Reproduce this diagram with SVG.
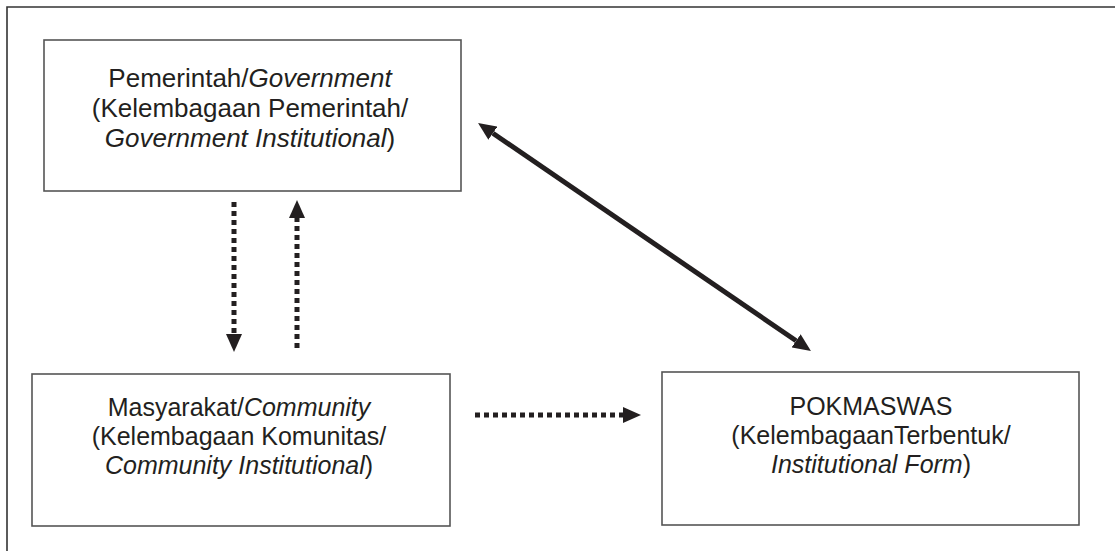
<svg xmlns="http://www.w3.org/2000/svg" width="1115" height="551" viewBox="0 0 1115 551">
  <style>
    .box { fill: #ffffff; stroke: #555555; stroke-width: 1.6; }
    .lbl { font-family: "Liberation Sans", Arial, sans-serif; font-size: 26px; fill: #231f20; text-anchor: middle; }
    .sm { font-size: 25px; }
    .it { font-style: italic; }
    .dot { fill: none; stroke: #231f20; stroke-width: 5; stroke-dasharray: 5 4; }
    .solid { fill: none; stroke: #231f20; stroke-width: 5; }
  </style>
  <defs>
    <marker id="head" viewBox="0 0 18 16" refX="0" refY="8" markerWidth="18" markerHeight="16" markerUnits="userSpaceOnUse" orient="auto-start-reverse">
      <path d="M0,0 L18,8 L0,16 Z" fill="#231f20"/>
    </marker>
  </defs>
  <rect width="1115" height="551" fill="#ffffff"/>
  <path d="M7,551 L7,7 L1115,7" fill="none" stroke="#333333" stroke-width="1.6"/>

  <g id="node-government">
    <rect class="box" x="44" y="40" width="417" height="151"/>
    <text class="lbl" x="250" y="87">Pemerintah/<tspan class="it">Government</tspan></text>
    <text class="lbl" x="250" y="117">(Kelembagaan Pemerintah/</text>
    <text class="lbl" x="250" y="147"><tspan class="it">Government Institutional</tspan>)</text>
  </g>

  <g id="node-community">
    <rect class="box" x="32" y="374" width="418" height="152"/>
    <text class="lbl sm" x="239" y="416">Masyarakat/<tspan class="it">Community</tspan></text>
    <text class="lbl sm" x="239" y="445">(Kelembagaan Komunitas/</text>
    <text class="lbl sm" x="239" y="474"><tspan class="it">Community Institutional</tspan>)</text>
  </g>

  <g id="node-pokmaswas">
    <rect class="box" x="662" y="372" width="417" height="153"/>
    <text class="lbl sm" x="871" y="415">POKMASWAS</text>
    <text class="lbl sm" x="871" y="444">(KelembagaanTerbentuk/</text>
    <text class="lbl sm" x="871" y="473"><tspan class="it">Institutional Form</tspan>)</text>
  </g>

  <g id="connectors">
    <line class="dot" x1="234" y1="202" x2="234" y2="334" marker-end="url(#head)"/>
    <line class="dot" x1="297" y1="348" x2="297" y2="218" marker-end="url(#head)"/>
    <line class="dot" x1="475" y1="415" x2="623" y2="415" marker-end="url(#head)"/>
    <line class="solid" x1="492.9" y1="133.2" x2="796.1" y2="340.8" marker-start="url(#head)" marker-end="url(#head)"/>
  </g>
</svg>
